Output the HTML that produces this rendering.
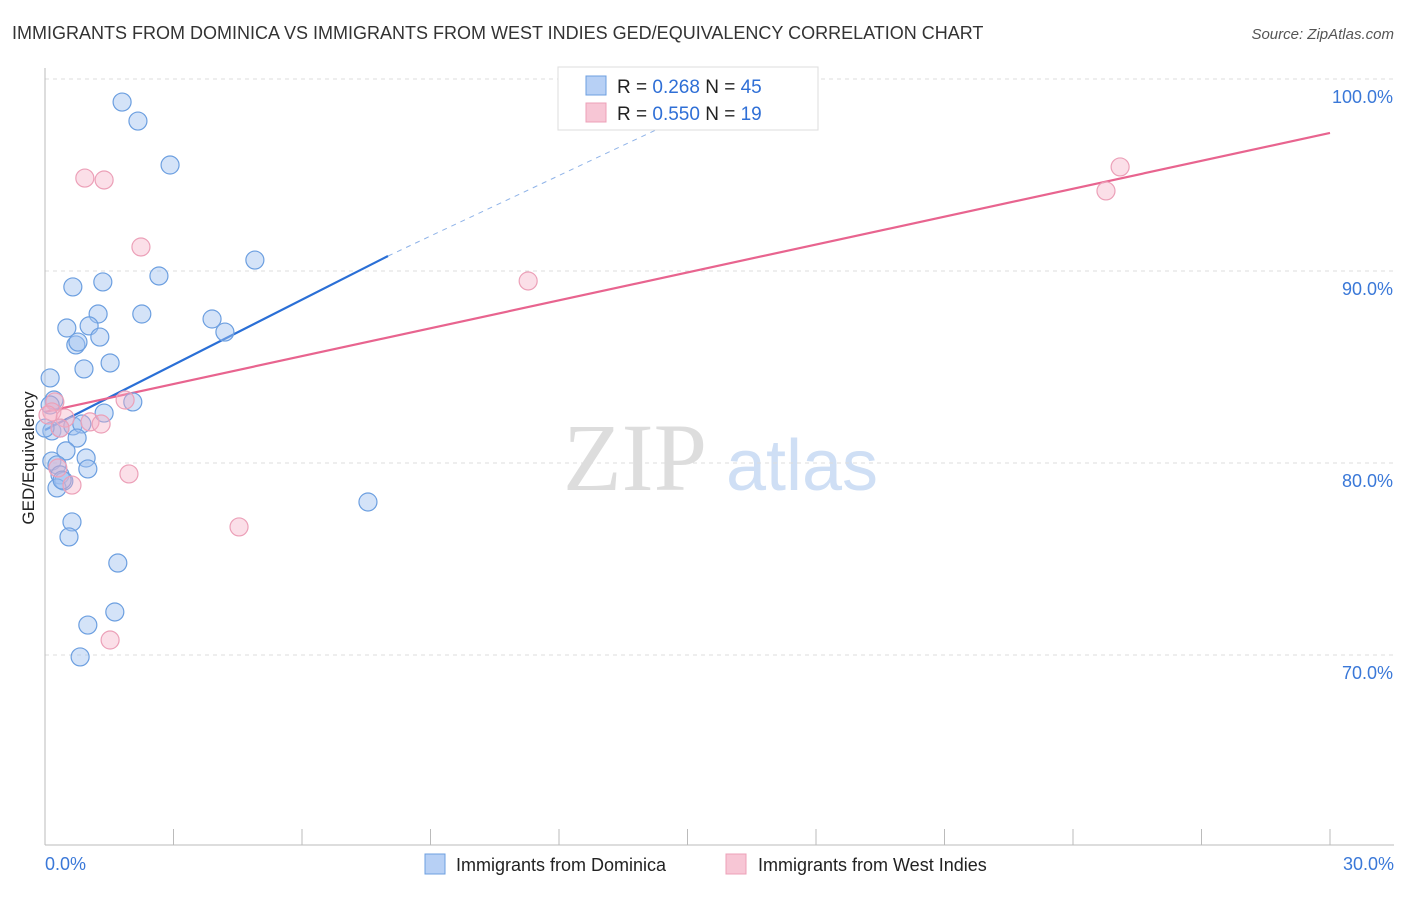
<!DOCTYPE html>
<html><head><meta charset="utf-8"><style>
body{margin:0;background:#fff;font-family:"Liberation Sans",sans-serif;}
svg text{font-family:"Liberation Sans",sans-serif;}
</style></head><body>
<svg id="chart" width="1406" height="892" xmlns="http://www.w3.org/2000/svg">
<text x="12" y="39" font-size="18" fill="#333">IMMIGRANTS FROM DOMINICA VS IMMIGRANTS FROM WEST INDIES GED/EQUIVALENCY CORRELATION CHART</text>
<text x="1394" y="39" font-size="15" fill="#555" font-style="italic" text-anchor="end">Source: ZipAtlas.com</text>
<g>
<text x="635" y="490" font-size="96" fill="#ddd" text-anchor="middle" font-family="Liberation Serif" style="font-family:'Liberation Serif',serif" >ZIP</text>
<text x="802" y="490" font-size="72" fill="#cfdff5" text-anchor="middle">atlas</text>
</g>
<g id="grid"></g>
<g id="axes"></g>
<g id="lines"></g>
<g id="points"></g>
<text transform="translate(34,458) rotate(-90)" font-size="17" fill="#222" text-anchor="middle">GED/Equivalency</text>
<g>
<rect x="558" y="67" width="260" height="63" fill="#fff" stroke="#ddd"/>
<rect x="586" y="76" width="20" height="19" fill="#b7d0f5" stroke="#6c9fe0"/>
<text x="617" y="93" font-size="19" fill="#222">R = <tspan fill="#2f6fd6">0.268</tspan>    N = <tspan fill="#2f6fd6">45</tspan></text>
<rect x="586" y="103" width="20" height="19" fill="#f7c6d5" stroke="#eca0b8"/>
<text x="617" y="120" font-size="19" fill="#222">R = <tspan fill="#2f6fd6">0.550</tspan>    N = <tspan fill="#2f6fd6"> 19</tspan></text>
</g>
<g>
<rect x="425" y="854" width="20" height="20" fill="#b7d0f5" stroke="#6c9fe0"/>
<text x="456" y="871" font-size="18" fill="#222">Immigrants from Dominica</text>
<rect x="726" y="854" width="20" height="20" fill="#f7c6d5" stroke="#eca0b8"/>
<text x="758" y="871" font-size="18" fill="#222">Immigrants from West Indies</text>
</g>
</svg>
<script>
const xTicks=[0,3,6,9,12,15,18,21,24,27,30];
const yTicks=[70,80,90,100];
const yTickLabels=["70.0%","80.0%","90.0%","100.0%"];
const xEndLabels=["0.0%","30.0%"];
const blueX=[1.80,2.17,2.92,4.90,2.66,0.65,1.35,2.26,1.24,3.90,4.20,0.51,1.03,0.72,0.77,1.28,1.52,0.91,0.12,2.05,0.21,1.38,0.16,0.35,0.65,0.86,0.75,0.49,0.96,0.16,0.28,1.00,0.35,0.44,0.28,7.54,0.63,0.56,1.70,1.63,1.00,0.82,0.12,0.40,0.00];
const blueY=[98.80,97.81,95.52,90.57,89.74,89.17,89.43,87.76,87.76,87.50,86.82,87.03,87.14,86.15,86.30,86.56,85.21,84.90,84.43,83.18,83.28,82.60,81.67,81.82,81.93,82.03,81.30,80.63,80.26,80.10,79.90,79.69,79.38,79.06,78.70,77.97,76.93,76.15,74.79,72.24,71.56,69.90,83.02,79.11,81.82];
const pinkX=[0.93,1.38,2.24,11.28,25.10,24.77,1.87,0.23,0.16,0.47,1.05,1.31,0.35,0.30,0.63,1.96,4.53,1.52,0.07];
const pinkY=[94.84,94.74,91.25,89.48,95.42,94.17,83.28,83.18,82.66,82.34,82.14,82.03,81.82,79.74,78.85,79.43,76.67,70.78,82.50];
const blueTrend=[[0,81.72],[8.008,90.78]];
const blueTrendExt=[[8.008,90.78],[14.36,97.45]];
const pinkTrend=[[0,82.66],[30,97.19]];
const NS="http://www.w3.org/2000/svg";
const X=v=>45+v/30*1285;
const Y=v=>79+(100-v)*19.2;
function mk(tag,attrs,parent){const e=document.createElementNS(NS,tag);for(const k in attrs)e.setAttribute(k,attrs[k]);parent.appendChild(e);return e;}
const grid=document.getElementById('grid'),axes=document.getElementById('axes'),lines=document.getElementById('lines'),pts=document.getElementById('points');
yTicks.forEach((t,i)=>{
 const l=mk('line',{x1:45,x2:1394,y1:Y(t),y2:Y(t),stroke:'#ddd','stroke-dasharray':'4,4'},grid);
 
 
 const tx=mk('text',{x:1393,y:Y(t)+24,'font-size':18,fill:'#3a78d8','text-anchor':'end'},grid);
 tx.textContent=yTickLabels[i];
 
 
});
const ax=mk('line',{x1:45,x2:45,y1:68,y2:845,stroke:'#bbb'},axes);


const bx=mk('line',{x1:45,x2:1394,y1:845,y2:845,stroke:'#bbb'},axes);


xTicks.forEach(t=>{
 const l=mk('line',{x1:X(t),x2:X(t),y1:829,y2:845,stroke:'#bbb'},axes);
 
 
});
[[xTicks[0],'start',45],[xTicks[xTicks.length-1],'end',1394]].forEach((d,i)=>{
 const tx=mk('text',{x:i===0?X(d[0]):1394,y:870,'font-size':18,fill:'#3a78d8','text-anchor':i===0?'start':'end'},axes);
 tx.textContent=xEndLabels[i];
 
 
});
function pt(xs,ys,fill,stroke,name){xs.forEach((v,i)=>{
 const c=mk('circle',{cx:X(v),cy:Y(ys[i]),r:9,fill:fill,stroke:stroke,'stroke-width':1.2},pts);
 
 
});}
pt(blueX,blueY,'rgba(160,194,240,0.45)','#6c9fe0','point-dominica');
pt(pinkX,pinkY,'rgba(244,176,198,0.4)','#eca0b8','point-west-indies');
function ln(p,stroke,w,dash,name){
 const l=mk('line',{x1:X(p[0][0]),y1:Y(p[0][1]),x2:X(p[1][0]),y2:Y(p[1][1]),stroke:stroke,'stroke-width':w},lines);
 if(dash)l.setAttribute('stroke-dasharray',dash);
 
 
}
ln(blueTrend,'#2a6fd6',2.2,null,'trendline-dominica');
ln(blueTrendExt,'#8fb3e8',1,'5,5','trendline-dominica-extension');
ln(pinkTrend,'#e8648f',2.2,null,'trendline-west-indies');
</script>
</body></html>
